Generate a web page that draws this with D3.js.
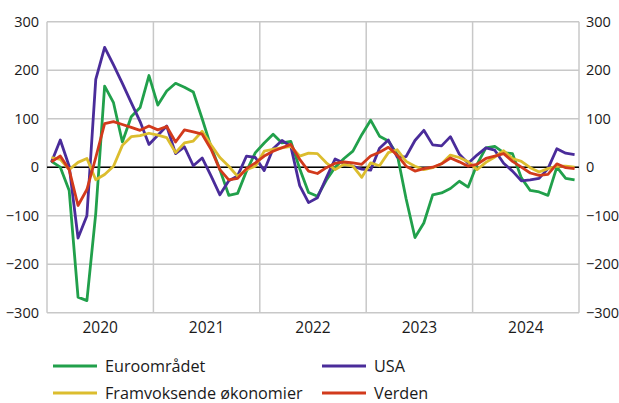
<!DOCTYPE html>
<html>
<head>
<meta charset="utf-8">
<script src="https://cdn.jsdelivr.net/npm/d3@7"></script>
<style>
  body { margin: 0; background: #fff; }
  svg text { font-family: "Open Sans", sans-serif; fill: #1a1a1a; }
</style>
</head>
<body>
<div id="chart"></div>
<script>
// monthly values, Jan 2020 - Dec 2024
var euro = [12, 0, -48, -268, -275, -95, 167, 133, 52, 104, 123, 189, 128, 157, 173, 165, 155, 100, 42, -5,
  -58, -54, -8, 30, 50, 68, 50, 53, -3, -52, -60, -27, 0, 18, 33, 67, 97, 64, 54, 26,
  -65, -145, -115, -57, -53, -44, -29, -41, 6, 40, 43, 30, 28, -22, -48, -51, -58, 0, -23, -26];
var usa = [10, 56, 2, -146, -100, 181, 247, 211, 173, 133, 94, 47, 66, 85, 28, 42, 3, 19, -18, -57,
  -28, -18, 23, 20, -7, 38, 55, 43, -38, -73, -63, -22, 17, 8, 2, -4, -6, 39, 56, 21,
  22, 55, 76, 46, 44, 63, 27, 8, 25, 40, 35, 8, -8, -28, -26, -23, -3, 38, 29, 26];
var emerging = [20, 16, -5, 10, 18, -26, -15, 2, 45, 63, 65, 70, 66, 61, 30, 50, 54, 74, 46, 20,
  2, -19, -5, 2, 33, 37, 40, 43, 23, 29, 28, 9, -5, 6, 2, -21, 9, 3, 30, 36,
  12, 2, -5, -1, 7, 25, 20, 11, -5, 10, 21, 34, 18, 12, -1, -10, -3, 2, 2, 0];
var world = [11, 23, -5, -79, -46, 20, 90, 94, 88, 82, 76, 85, 77, 84, 52, 77, 73, 68, 37, -5,
  -26, -23, -3, 9, 23, 33, 40, 47, 16, -8, -13, -1, 8, 11, 9, 6, 23, 31, 41, 25,
  2, -8, -3, 0, 7, 19, 11, 2, 6, 18, 23, 28, 12, 0, -12, -17, -15, 7, -1, -3];
var years = ["2020", "2021", "2022", "2023", "2024"];
var yTicks = [-300, -200, -100, 0, 100, 200, 300];

var series = [
  { name: "Euroområdet", values: euro, color: "#21a04b" },
  { name: "USA", values: usa, color: "#4a2c9a" },
  { name: "Framvoksende økonomier", values: emerging, color: "#dcbd2e" },
  { name: "Verden", values: world, color: "#d23a1c" }
];

var width = 619;
var height = 403;
var plotLeft = 47, plotRight = 579, plotTop = 21.7, plotBottom = 312.7;

var svg = d3.select("#chart").append("svg")
  .attr("width", width)
  .attr("height", height);

var x = d3.scaleLinear().domain([0, 60]).range([plotLeft, plotRight]);
var y = d3.scaleLinear().domain([-300, 300]).range([plotBottom, plotTop]);

// horizontal grid
svg.append("g").selectAll("line").data(yTicks).enter().append("line")
  .attr("x1", plotLeft).attr("x2", plotRight)
  .attr("y1", function(d) { return y(d); })
  .attr("y2", function(d) { return y(d); })
  .attr("stroke", "#c8c8c8").attr("stroke-width", 1.5);

// vertical grid at year boundaries
svg.append("g").selectAll("line").data(d3.range(0, 61, 12)).enter().append("line")
  .attr("x1", function(d) { return x(d); })
  .attr("x2", function(d) { return x(d); })
  .attr("y1", plotTop).attr("y2", plotBottom)
  .attr("stroke", "#c8c8c8").attr("stroke-width", 1.5);

// zero line
svg.append("line")
  .attr("x1", plotLeft).attr("x2", plotRight)
  .attr("y1", y(0)).attr("y2", y(0))
  .attr("stroke", "#000").attr("stroke-width", 1.4);

// y axes both sides
var yAxisL = d3.axisLeft(y).tickValues(yTicks).tickSize(0).tickPadding(8);
var yAxisR = d3.axisRight(y).tickValues(yTicks).tickSize(0).tickPadding(7);
svg.append("g").attr("transform", "translate(" + plotLeft + ",0)").call(yAxisL);
svg.append("g").attr("transform", "translate(" + plotRight + ",0)").call(yAxisR);
svg.selectAll(".domain").remove();
svg.selectAll(".tick text").attr("font-size", 14.5).attr("font-family", "Open Sans, sans-serif").attr("fill", "#1a1a1a");

// year labels
svg.append("g").selectAll("text").data(years).enter().append("text")
  .attr("x", function(d, i) { return x(i * 12 + 6); })
  .attr("y", 333)
  .attr("text-anchor", "middle")
  .attr("font-size", 15.5)
  .text(function(d) { return d; });

var line = d3.line()
  .x(function(d, i) { return x(i + 0.5); })
  .y(function(d) { return y(d); });

svg.append("g").selectAll("path").data(series).enter().append("path")
  .attr("d", function(d) { return line(d.values); })
  .attr("fill", "none")
  .attr("stroke", function(d) { return d.color; })
  .attr("stroke-width", 2.8)
  .attr("stroke-linejoin", "round");

// legend
var legendPos = [[53, 366], [322, 366], [53, 393], [322, 393]];
var legend = svg.append("g").selectAll("g").data(series).enter().append("g")
  .attr("transform", function(d, i) { return "translate(" + legendPos[i][0] + "," + legendPos[i][1] + ")"; });
legend.append("line")
  .attr("x1", 0).attr("x2", 44).attr("y1", 0).attr("y2", 0)
  .attr("stroke", function(d) { return d.color; })
  .attr("stroke-width", 3);
legend.append("text")
  .attr("x", 52).attr("y", 5.5)
  .attr("font-size", 16.2)
  .text(function(d) { return d.name; });
</script>
</body>
</html>
